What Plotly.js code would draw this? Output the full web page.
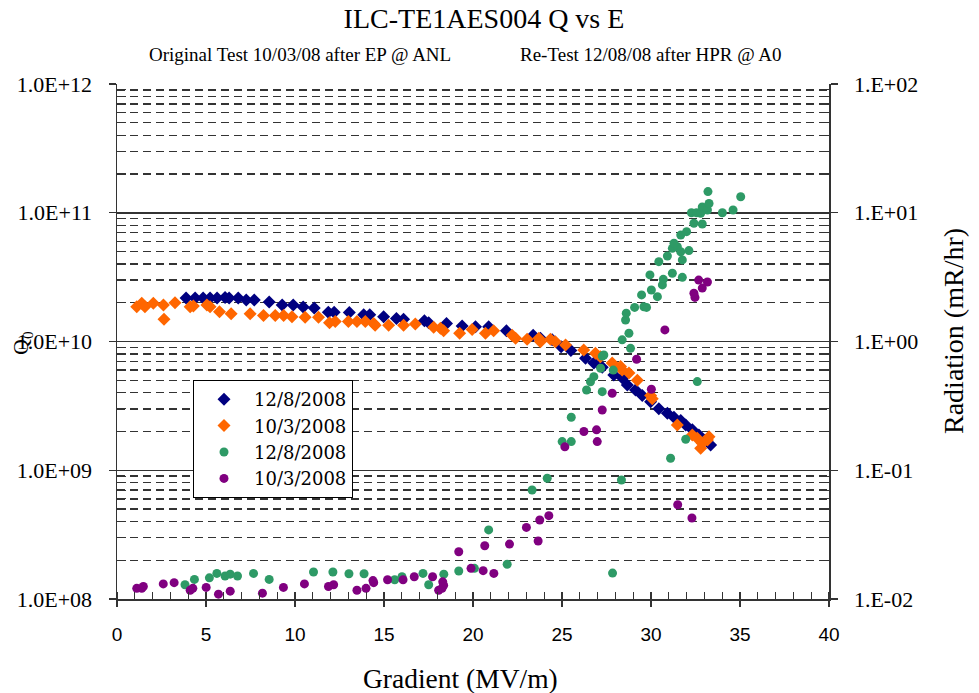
<!DOCTYPE html>
<html>
<head>
<meta charset="utf-8">
<script src="https://cdn.plot.ly/plotly-3.0.1.min.js"></script>
<style>
html,body{margin:0;padding:0;background:#fff;}
#chart{width:979px;height:693px;}
</style>
</head>
<body>
<div id="chart"></div>
<script>
// ---- Data ----
// Q0, re-test 12/8/2008 (navy diamonds)
const q128_E = [3.88,4.39,4.84,5.23,5.62,6.07,6.30,6.81,7.26,7.71,8.55,9.28,9.90,10.46,11.08,11.87,12.2,13.05,13.86,14.2,14.98,15.7,16.1,17.27,17.51,18.51,19.39,20.14,20.88,21.88,23.38,23.79,24.45,24.95,25.5,26.32,26.79,27.26,27.91,28.39,28.67,29.13,29.51,29.98,30.44,30.92,31.29,31.67,31.95,32.32,32.69,32.97,33.35];
const q128_Q = [2.18e10,2.18e10,2.18e10,2.18e10,2.18e10,2.2e10,2.18e10,2.18e10,2.10e10,2.10e10,2.03e10,1.92e10,1.92e10,1.85e10,1.82e10,1.69e10,1.69e10,1.68e10,1.61e10,1.61e10,1.56e10,1.51e10,1.49e10,1.45e10,1.40e10,1.38e10,1.32e10,1.30e10,1.30e10,1.21e10,1.12e10,1.06e10,1.03e10,9.1e9,8.5e9,7.4e9,6.8e9,6.3e9,5.5e9,5.2e9,4.6e9,4.2e9,3.8e9,3.4e9,3.0e9,2.77e9,2.58e9,2.43e9,2.25e9,2.06e9,1.88e9,1.72e9,1.57e9];

// Q0, original test 10/3/2008 (orange diamonds)
const q103_E = [1.11,1.39,1.57,2.04,2.61,2.64,3.26,4.11,4.29,5.05,5.23,5.76,6.41,7.48,8.23,8.89,9.36,9.83,10.57,11.32,11.94,12.26,13.0,13.48,13.95,14.42,14.5,15.26,16.1,16.76,17.79,18.17,18.35,19.25,19.95,20.7,21.16,22.2,22.39,23.04,23.7,23.79,24.35,24.63,25.2,26.22,26.88,27.16,27.82,28.29,28.38,28.76,29.23,29.98,30.07,31.48,32.32,32.6,32.79,32.88,33.17,33.26];
const q103_Q = [1.86e10,1.98e10,1.86e10,1.98e10,1.92e10,1.49e10,2.0e10,1.86e10,1.89e10,1.92e10,1.86e10,1.70e10,1.64e10,1.64e10,1.59e10,1.59e10,1.59e10,1.56e10,1.54e10,1.54e10,1.40e10,1.43e10,1.43e10,1.43e10,1.43e10,1.38e10,1.34e10,1.34e10,1.34e10,1.37e10,1.29e10,1.27e10,1.21e10,1.16e10,1.24e10,1.16e10,1.21e10,1.12e10,1.06e10,1.04e10,1.06e10,9.97e9,1.04e10,9.97e9,9.4e9,8.6e9,8.1e9,7.6e9,6.8e9,6.4e9,6.0e9,5.7e9,5.0e9,3.8e9,3.6e9,2.25e9,1.88e9,1.77e9,1.48e9,1.62e9,1.72e9,1.82e9];

// Radiation, re-test 12/8/2008 (green circles)
const r128_E = [3.82,4.35,5.19,5.61,6.07,6.36,6.77,7.67,8.55,11.04,12.13,13.03,13.88,15.6,16.01,17.19,17.51,18.36,19.2,20.08,20.88,21.92,23.32,24.17,25.01,25.52,25.52,26.38,26.6,26.79,27.26,27.17,27.26,27.35,27.88,28.38,28.76,28.85,28.57,28.61,29.08,29.6,29.75,29.47,30.02,30.36,30.69,30.64,29.94,30.44,31.2,31.76,30.92,31.2,31.48,31.67,31.29,31.76,32.13,31.67,32.0,32.41,32.88,32.27,32.56,32.79,32.88,33.17,33.26,33.2,34.01,34.61,35.04,32.6,31.95,31.1,28.34,27.84];
const r128_R = [0.0129,0.0142,0.0146,0.0158,0.0151,0.0156,0.0151,0.0158,0.0142,0.0162,0.0162,0.0157,0.0157,0.0141,0.0149,0.0158,0.0129,0.0156,0.0165,0.0173,0.0344,0.0186,0.0703,0.0867,0.167,0.167,0.258,0.42,0.487,0.533,0.408,0.62,0.77,0.785,0.60,1.03,1.16,0.885,1.47,1.66,1.84,1.86,1.84,2.30,2.51,2.23,3.04,2.75,3.29,4.17,3.39,3.15,4.61,5.29,5.45,4.98,5.80,4.30,5.08,6.71,7.13,8.28,8.18,10.0,10.0,9.9,11.1,10.5,11.8,14.6,10.0,10.5,13.3,0.488,0.174,0.124,0.084,0.0159];

// Radiation, original test 10/3/2008 (purple circles)
const r103_E = [1.11,1.39,1.48,2.6,3.21,4.11,4.26,5.01,5.7,6.36,8.17,9.35,10.53,11.88,12.17,13.48,13.99,14.42,14.38,15.2,16.07,16.7,17.73,18.07,18.26,18.35,18.3,19.2,19.89,20.57,20.66,21.17,22.05,23.0,23.66,23.75,24.26,25.16,26.23,26.94,26.98,27.26,27.82,29.19,30.02,30.78,31.5,32.3,32.41,32.47,32.68,32.88,33.17];
const r103_R = [0.0121,0.0121,0.0125,0.0131,0.0134,0.0117,0.0121,0.0123,0.0109,0.0115,0.0111,0.0123,0.0131,0.0125,0.0129,0.0117,0.0121,0.0134,0.0139,0.0141,0.0141,0.0149,0.0149,0.0117,0.0121,0.0128,0.0136,0.0233,0.0173,0.0166,0.0259,0.0158,0.0267,0.036,0.0282,0.0411,0.0444,0.152,0.20,0.206,0.167,0.294,0.396,0.728,0.426,1.23,0.054,0.0426,2.37,2.2,3.0,2.6,2.9];

// Tick labels
const xTickVals = [0,5,10,15,20,25,30,35,40];
const xTickText = ['0','5','10','15','20','25','30','35','40'];
const qTickVals = [1e8,1e9,1e10,1e11,1e12];
const qTickText = ['1.0E+08','1.0E+09','1.0E+10','1.0E+11','1.0E+12'];
const rTickVals = [0.01,0.1,1,10,100];
const rTickText = ['1.E-02','1.E-01','1.E+00','1.E+01','1.E+02'];
const legendNames = ['12/8/2008','10/3/2008','12/8/2008','10/3/2008'];
const colors = ['#000080','#FF6600','#2E9A66','#800080'];

// minor positions 2..9 in each decade (for gridlines/minor ticks)
function minorVals(lo, hi){
  const v=[];
  for(let e=lo;e<hi;e++){ for(let m=2;m<=9;m++){ v.push(m*Math.pow(10,e)); } }
  return v;
}
const qMinor = minorVals(8,12);
const rMinor = minorVals(-2,2);

const serif = 'Liberation Serif';
const sans = 'Liberation Sans';

const traces = [
  {x:q128_E, y:q128_Q, name:legendNames[0], type:'scatter', mode:'markers', yaxis:'y',
   marker:{symbol:'diamond', size:10, color:colors[0]}},
  {x:q103_E, y:q103_Q, name:legendNames[1], type:'scatter', mode:'markers', yaxis:'y',
   marker:{symbol:'diamond', size:10, color:colors[1]}},
  {x:r128_E, y:r128_R, name:legendNames[2], type:'scatter', mode:'markers', yaxis:'y2',
   marker:{symbol:'circle', size:9, color:colors[2]}},
  {x:r103_E, y:r103_R, name:legendNames[3], type:'scatter', mode:'markers', yaxis:'y2',
   marker:{symbol:'circle', size:9, color:colors[3]}},
  // empty helper trace so the dashed-grid axis is built
  {x:[], y:[], type:'scatter', mode:'markers', yaxis:'y3', showlegend:false, hoverinfo:'skip'}
];

const W=979, H=693, L=117, R=150, T=84, B=94;
const pw = W-L-R, ph = H-T-B;
const px = v => (v-L)/pw;          // pixel x -> paper
const py = v => (H-B-v)/ph;        // pixel y -> paper

const layout = {
  width:W, height:H,
  margin:{l:L, r:R, t:T, b:B, pad:0},
  paper_bgcolor:'#fff', plot_bgcolor:'#fff',
  showlegend:true,
  font:{family:serif, color:'#000'},
  title:{text:'ILC-TE1AES004 Q vs E', font:{family:serif, size:28, color:'#000'},
         x:484/W, xanchor:'center', y:1-18/H, yanchor:'middle', xref:'container', yref:'container'},
  xaxis:{type:'linear', range:[0,40], tickmode:'array', tickvals:xTickVals, ticktext:xTickText,
         ticks:'outside', ticklen:6, tickwidth:1.2, tickcolor:'#333',
         showline:true, linecolor:'#333', linewidth:1.5, showgrid:false, zeroline:false,
         tickfont:{family:sans, size:19, color:'#000'}, ticklabelstandoff:12,
         minor:{tickmode:'linear', tick0:0, dtick:1, ticks:'inside', ticklen:7, tickwidth:1.2, tickcolor:'#333', showgrid:false}},
  yaxis:{type:'log', range:[8,12], tickmode:'array', tickvals:qTickVals, ticktext:qTickText,
         ticks:'outside', ticklen:7, tickwidth:1.2, tickcolor:'#333',
         showline:true, linecolor:'#333', linewidth:1.5,
         showgrid:true, gridcolor:'#333', gridwidth:1.5, zeroline:false,
         tickfont:{family:serif, size:22, color:'#000'}, ticklabelstandoff:12,
         minor:{tickmode:'array', tickvals:qMinor, ticks:'inside', ticklen:9, tickwidth:1.2, tickcolor:'#333', showgrid:false}},
  yaxis2:{type:'log', range:[-2,2], overlaying:'y', side:'right', anchor:'x',
          tickmode:'array', tickvals:rTickVals, ticktext:rTickText,
          ticks:'outside', ticklen:7, tickwidth:1.2, tickcolor:'#333',
          showline:true, linecolor:'#333', linewidth:1.5, showgrid:false, zeroline:false,
          tickfont:{family:serif, size:22, color:'#000'}, ticklabelstandoff:12,
          minor:{tickmode:'array', tickvals:rMinor, ticks:'inside', ticklen:9, tickwidth:1.2, tickcolor:'#333', showgrid:false}},
  yaxis3:{type:'log', range:[8,12], overlaying:'y', side:'left', anchor:'x',
          tickmode:'array', tickvals:qMinor, showticklabels:false, ticks:'',
          showline:false, zeroline:false,
          showgrid:true, gridcolor:'#333', gridwidth:1.4, griddash:'8px,5px'},
  legend:{x:px(193), y:py(380), xanchor:'left', yanchor:'top', bgcolor:'#fff',
          bordercolor:'#000', borderwidth:1, font:{family:'DejaVu Serif', size:18, color:'#000'},
          itemwidth:50, tracegroupgap:0, traceorder:'normal'},
  annotations:[
    {text:'Original Test 10/03/08 after EP @ ANL', xref:'paper', yref:'paper', x:px(300), y:py(55),
     xanchor:'center', yanchor:'middle', showarrow:false, font:{family:serif, size:19, color:'#000'}},
    {text:'Re-Test 12/08/08 after HPR @ A0', xref:'paper', yref:'paper', x:px(651), y:py(55),
     xanchor:'center', yanchor:'middle', showarrow:false, font:{family:serif, size:19, color:'#000'}},
    {text:'Gradient (MV/m)', xref:'paper', yref:'paper', x:px(460), y:py(678),
     xanchor:'center', yanchor:'middle', showarrow:false, font:{family:serif, size:27.5, color:'#000'}},
    {text:'Radiation (mR/hr)', xref:'paper', yref:'paper', x:px(953), y:py(331), textangle:-90,
     xanchor:'center', yanchor:'middle', showarrow:false, font:{family:serif, size:28, color:'#000'}},
    {text:'Q<sub>0</sub>', xref:'paper', yref:'paper', x:px(22), y:py(343), textangle:-90,
     xanchor:'center', yanchor:'middle', showarrow:false, font:{family:serif, size:22, color:'#000'}}
  ]
};

Plotly.newPlot('chart', traces, layout, {displayModeBar:false, staticPlot:true});
</script>
</body>
</html>
